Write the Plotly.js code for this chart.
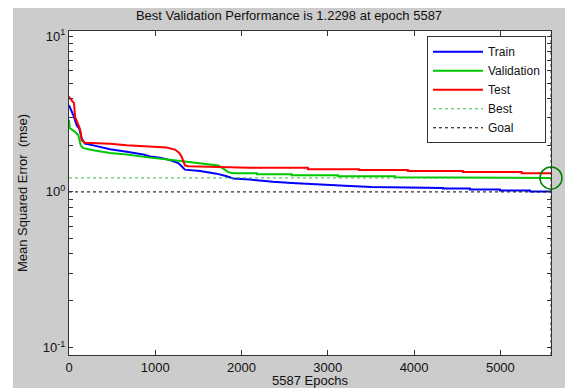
<!DOCTYPE html>
<html>
<head>
<meta charset="utf-8">
<script src="https://cdn.plot.ly/plotly-3.0.1.min.js"></script>
<style>
  html, body { margin: 0; padding: 0; background: #ffffff; overflow: hidden; }
  #chart { position: absolute; left: 13px; top: 8px; width: 552px; height: 380px; }
</style>
</head>
<body>
<div id="chart"></div>
<script>
// ---- data ----
const trainEpochs = [0, 8, 31, 58, 89, 119, 147, 185, 282, 475, 669, 861, 939, 1054, 1170, 1267, 1306, 1344, 1518, 1711, 1827, 1904, 2097, 2213, 2364, 2580, 2793, 3024, 3256, 3508, 3754, 4029, 4029, 4334, 4334, 4647, 4647, 4994, 4994, 5342, 5342, 5587];
const trainMse    = [3.6, 3.51, 3.34, 3.03, 2.68, 2.55, 2.20, 2.04, 1.99, 1.88, 1.81, 1.74, 1.69, 1.66, 1.60, 1.53, 1.46, 1.39, 1.36, 1.31, 1.26, 1.22, 1.20, 1.18, 1.16, 1.14, 1.12, 1.10, 1.09, 1.077, 1.072, 1.072, 1.061, 1.061, 1.051, 1.051, 1.036, 1.036, 1.021, 1.021, 1.006, 1.006];

const valEpochs = [0, 3, 8, 70, 108, 136, 166, 282, 475, 669, 861, 939, 1170, 1402, 1596, 1730, 1788, 1846, 1904, 2178, 2178, 2580, 2580, 3117, 3117, 3778, 3778, 4589, 4589, 5587];
const valMse    = [2.9, 2.6, 2.57, 2.43, 2.31, 1.99, 1.91, 1.85, 1.78, 1.74, 1.68, 1.66, 1.61, 1.56, 1.52, 1.48, 1.41, 1.34, 1.32, 1.32, 1.30, 1.30, 1.28, 1.28, 1.26, 1.26, 1.24, 1.24, 1.2298, 1.2298];

const testEpochs = [0, 8, 31, 58, 70, 89, 119, 136, 147, 185, 282, 475, 669, 861, 1054, 1132, 1228, 1278, 1306, 1324, 1344, 1382, 1711, 2097, 2769, 2769, 3360, 3360, 3928, 3928, 4565, 4565, 5246, 5246, 5587];
const testMse    = [4.1, 4.01, 3.87, 3.71, 3.03, 2.88, 2.61, 2.43, 2.15, 2.07, 2.06, 2.04, 1.99, 1.96, 1.94, 1.93, 1.87, 1.78, 1.68, 1.56, 1.48, 1.46, 1.45, 1.43, 1.43, 1.40, 1.40, 1.38, 1.38, 1.36, 1.36, 1.34, 1.34, 1.32, 1.32];

const bestEpoch = 5587;
const bestPerf = 1.2298;
const goalPerf = 1.0;

const xTickVals = [0, 1000, 2000, 3000, 4000, 5000];
const yTickVals = [0.1, 0.2, 0.3, 0.4, 0.5, 0.6, 0.7, 0.8, 0.9, 1, 2, 3, 4, 5, 6, 7, 8, 9, 10];
const yTickText = ['10<sup>-1</sup>', '', '', '', '', '', '', '', '', '10<sup>0</sup>', '', '', '', '', '', '', '', '', '10<sup>1</sup>'];

const FONT = 'Liberation Sans, Arial, sans-serif';

const traces = [
  { x: trainEpochs, y: trainMse, name: 'Train', mode: 'lines', line: { color: '#0000ff', width: 2 } },
  { x: valEpochs, y: valMse, name: 'Validation', mode: 'lines', line: { color: '#00c800', width: 2 } },
  { x: testEpochs, y: testMse, name: 'Test', mode: 'lines', line: { color: '#ff0000', width: 2 } },
  { x: [0, bestEpoch], y: [bestPerf, bestPerf], name: 'Best', mode: 'lines', line: { color: '#3cb83c', width: 1, dash: 'dot' } },
  { x: [0, bestEpoch], y: [goalPerf, goalPerf], name: 'Goal', mode: 'lines', line: { color: '#000000', width: 1, dash: 'dot' } },
  { x: [bestEpoch], y: [bestPerf], mode: 'markers', showlegend: false, hoverinfo: 'skip', cliponaxis: false,
    marker: { symbol: 'circle-open', size: 22, color: '#008000', line: { width: 1.5, color: '#008000' } } }
];

const layout = {
  width: 552, height: 380,
  paper_bgcolor: '#cccccc',
  plot_bgcolor: '#ffffff',
  margin: { l: 56, r: 14, t: 23, b: 33 },
  font: { family: FONT, size: 13, color: '#000000' },
  title: { text: 'Best Validation Performance is 1.2298 at epoch 5587', font: { family: FONT, size: 13, color: '#111111' },
           x: 0.5, xref: 'container', xanchor: 'center', y: 0.980, yref: 'container', yanchor: 'middle' },
  xaxis: {
    range: [0, 5587], tickvals: xTickVals, ticks: 'inside', ticklen: 5, tickcolor: '#333333',
    showline: true, linecolor: '#333333', linewidth: 1, mirror: 'allticks', showgrid: false, zeroline: false,
    tickfont: { family: FONT, size: 13, color: '#111111' },
    title: { text: '5587 Epochs', font: { family: FONT, size: 13, color: '#111111' }, standoff: 3 }
  },
  yaxis: {
    type: 'log', range: [-1.047, 1.033], tickvals: yTickVals, ticktext: yTickText, ticks: 'inside', ticklen: 4,
    tickcolor: '#333333', showline: true, linecolor: '#333333', linewidth: 1, mirror: 'allticks',
    showgrid: false, zeroline: false,
    tickfont: { family: FONT, size: 13, color: '#111111' },
    title: { text: 'Mean Squared Error \u00a0(mse)', font: { family: FONT, size: 13, color: '#111111' }, standoff: 12 }
  },
  legend: {
    x: 0.9896, y: 0.9837, xanchor: 'right', yanchor: 'top', xref: 'paper', yref: 'paper',
    bgcolor: '#ffffff', bordercolor: '#333333', borderwidth: 1, itemwidth: 50,
    font: { family: FONT, size: 12, color: '#111111' }, tracegroupgap: 0
  },
  shapes: [
    { type: 'line', xref: 'x', yref: 'paper', x0: bestEpoch, x1: bestEpoch, y0: 0, y1: 1,
      line: { color: '#006400', width: 1, dash: 'dot' } }
  ],
  showlegend: true
};

Plotly.newPlot('chart', traces, layout, { displayModeBar: false, staticPlot: true });
</script>
</body>
</html>
